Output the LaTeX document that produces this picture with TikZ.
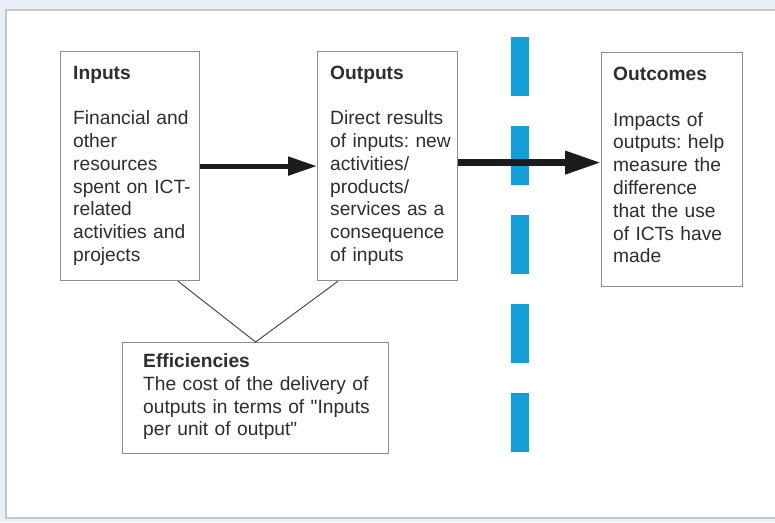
\documentclass[tikz,border=0pt]{standalone}
\usepackage{fontspec}
\setmainfont{Liberation Sans}[Ligatures=TeXOff]
\frenchspacing
\usetikzlibrary{arrows.meta,calc}
\definecolor{bgblue}{HTML}{E8EFF7}
\definecolor{framegray}{HTML}{C3C7CB}
\definecolor{boxgray}{HTML}{8E8E8E}
\definecolor{txt}{HTML}{2E2E2E}
\definecolor{dashblue}{HTML}{139FDA}
\definecolor{arrblack}{HTML}{1C1C1C}
\tikzset{
  box/.style={draw=boxgray, line width=1.2pt, fill=white, inner sep=0pt, anchor=north west},
  label/.style={anchor=base west, inner sep=0pt, text width=135pt, align=left, text=txt,
    font=\fontsize{19.2}{22.8}\selectfont},
  arrone/.style={draw=arrblack, line width=5pt, -{Triangle[length=29pt,width=18pt]}},
  arrtwo/.style={draw=arrblack, line width=7pt, -{Triangle[length=36pt,width=22pt]}},
  link/.style={draw=black!70, line width=1pt},
  divider/.style={draw=dashblue, line width=18pt, dash pattern=on 59pt off 30pt}
}
\begin{document}
\begin{tikzpicture}[x=1pt,y=-1pt]
\useasboundingbox (0,0) rectangle (775,522);
\fill[bgblue] (0,0) rectangle (775,522);
\draw[framegray, line width=2pt, fill=white] (6,10) rectangle (790,518);

% boxes
\node[box, minimum width=139pt, minimum height=229pt] (in) at (60,51) {};
\node[box, minimum width=140pt, minimum height=229pt] (out) at (317,51) {};
\node[box, minimum width=141pt, minimum height=234pt] (outc) at (601,52) {};
\node[box, minimum width=266pt, minimum height=111pt] (eff) at (122,342) {};

% texts
\node[label] (tin) at (73,79) {\textbf{Inputs}\\[22.8pt]Financial and\\other\\resources\\spent on ICT-\\related\\activities and\\projects};
\node[label] (tout) at (330,79) {\textbf{Outputs}\\[22.8pt]Direct results\\of inputs: new\\activities/\\products/\\services as a\\consequence\\of inputs};
\node[label] (toutc) at (613,80.5) {\textbf{Outcomes}\\[22.8pt]Impacts of\\outputs: help\\measure the\\difference\\that the use\\of ICTs have\\made};
\node[label, text width=250pt] (teff) at (143,367.5) {\textbf{Efficiencies}\\The cost of the delivery of\\outputs in terms of "Inputs\\per unit of output"};

% dashed divider
\coordinate (dtop) at (520,37);
\coordinate (dbot) at (520,453);
\draw[divider] (dtop) -- (dbot);

% links to efficiencies
\coordinate (l1) at ($(in.south west)+(118,0)$);
\coordinate (l2) at ($(out.south west)+(21,0)$);
\draw[link] (l1) -- (eff.north) -- (l2);

% arrows
\draw[arrone] (in.east) -- (out.west);
\coordinate (a2s) at ($(out.east)+(0,-3.5)$);
\draw[arrtwo] (a2s) -- (a2s -| outc.west);
\end{tikzpicture}
\end{document}
